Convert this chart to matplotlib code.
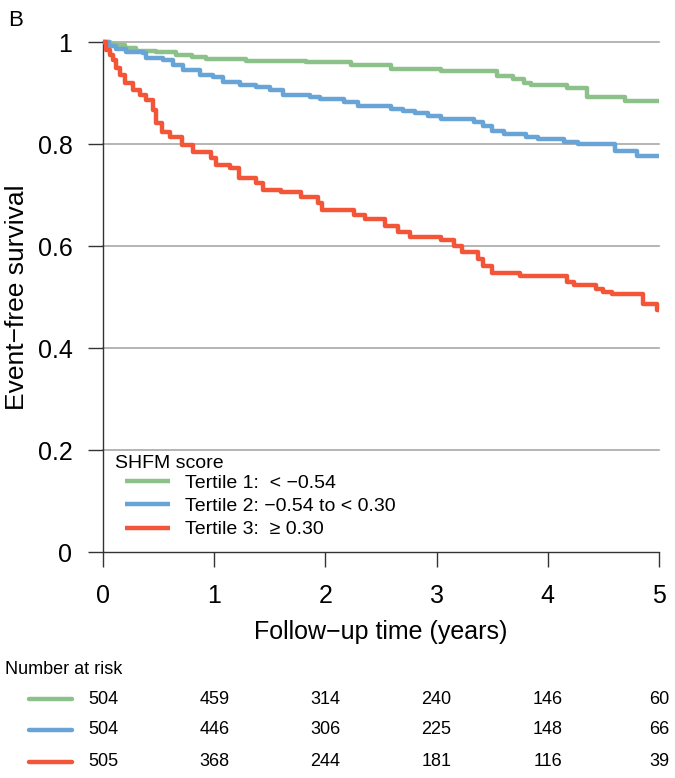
import matplotlib
matplotlib.use('Agg')
import matplotlib.pyplot as plt
from matplotlib.lines import Line2D
from matplotlib.transforms import blended_transform_factory

plt.rcParams['font.family'] = ['Liberation Sans', 'DejaVu Sans']

# Kaplan-Meier step values (time in years, survival)
t_tertile1 = [0, 0.06, 0.12, 0.20, 0.30, 0.48, 0.66, 0.80, 0.93, 1.29, 1.83, 2.23, 2.59,
              3.04, 3.54, 3.69, 3.79, 3.85, 4.17, 4.35, 4.69, 5.0]
s_tertile1 = [1.0, 0.997, 0.994, 0.988, 0.983, 0.981, 0.975, 0.970, 0.967, 0.963, 0.960,
              0.954, 0.947, 0.943, 0.933, 0.927, 0.920, 0.916, 0.909, 0.893, 0.884, 0.884]

t_tertile2 = [0, 0.05, 0.12, 0.21, 0.36, 0.39, 0.54, 0.63, 0.72, 0.87, 0.99, 1.08, 1.23,
              1.38, 1.50, 1.62, 1.86, 1.95, 2.17, 2.29, 2.59, 2.70, 2.81, 2.92, 3.04, 3.34,
              3.42, 3.50, 3.61, 3.80, 3.91, 4.15, 4.27, 4.60, 4.80, 5.0]
s_tertile2 = [1.0, 0.993, 0.987, 0.981, 0.979, 0.968, 0.965, 0.955, 0.945, 0.935, 0.931,
              0.922, 0.916, 0.912, 0.905, 0.897, 0.893, 0.888, 0.883, 0.875, 0.868, 0.864,
              0.860, 0.855, 0.850, 0.843, 0.835, 0.826, 0.819, 0.814, 0.809, 0.804, 0.800,
              0.787, 0.777, 0.777]

t_tertile3 = [0, 0.03, 0.06, 0.09, 0.12, 0.15, 0.20, 0.27, 0.33, 0.39, 0.45, 0.48, 0.53,
              0.60, 0.71, 0.81, 0.97, 1.02, 1.14, 1.22, 1.38, 1.44, 1.60, 1.78, 1.93, 1.97,
              2.26, 2.36, 2.54, 2.65, 2.76, 3.04, 3.16, 3.23, 3.37, 3.42, 3.50, 3.75, 4.17,
              4.24, 4.43, 4.50, 4.58, 4.86, 4.98, 5.0]
s_tertile3 = [1.0, 0.985, 0.975, 0.965, 0.950, 0.935, 0.919, 0.905, 0.896, 0.886, 0.867,
              0.841, 0.824, 0.813, 0.798, 0.785, 0.772, 0.759, 0.752, 0.733, 0.723, 0.710,
              0.705, 0.697, 0.684, 0.670, 0.660, 0.652, 0.640, 0.628, 0.618, 0.612, 0.600,
              0.588, 0.575, 0.560, 0.548, 0.541, 0.530, 0.524, 0.516, 0.510, 0.506, 0.486,
              0.475, 0.475]

labels = ['Tertile 1:  < \u22120.54',
          'Tertile 2: \u22120.54 to < 0.30',
          'Tertile 3:  \u2265 0.30']
colors = ['#8cc28a', '#68a4d6', '#f25538']

risk_times = [0, 1, 2, 3, 4, 5]
risk_tertile1 = [504, 459, 314, 240, 146, 60]
risk_tertile2 = [504, 446, 306, 225, 148, 66]
risk_tertile3 = [505, 368, 244, 181, 116, 39]

times = [t_tertile1, t_tertile2, t_tertile3]
survs = [s_tertile1, s_tertile2, s_tertile3]
risks = [risk_tertile1, risk_tertile2, risk_tertile3]

fig = plt.figure(figsize=(6.75, 7.78), dpi=100)
ax = fig.add_axes([103 / 675, 1 - 552 / 778, 556 / 675, 510 / 778])

for t, s, c, lab in zip(times, survs, colors, labels):
    ax.step(t, s, where='post', color=c, linewidth=3.2, label=lab, clip_on=False,
            solid_capstyle='butt', zorder=3)

ax.set_xlim(0, 5)
ax.set_ylim(0, 1)
ax.set_xticks(risk_times)
ax.set_yticks([0, 0.2, 0.4, 0.6, 0.8, 1])
ax.set_yticklabels(['0', '0.2', '0.4', '0.6', '0.8', '1'])
for yv in [0.2, 0.4, 0.6, 0.8, 1.0]:
    ax.axhline(yv, color='#a8a8a8', linewidth=1.2, zorder=1, clip_on=False)

for side in ['top', 'right']:
    ax.spines[side].set_visible(False)
ax.spines['left'].set_color('#333333')
ax.spines['bottom'].set_color('#333333')
ax.spines['left'].set_linewidth(1.0)
ax.spines['bottom'].set_linewidth(1.0)
ax.tick_params(axis='both', length=11, width=1.0, color='#333333', labelsize=18)
ax.tick_params(axis='y', pad=11)
ax.tick_params(axis='x', pad=12)

ax.set_xlabel('Follow\u2212up time (years)', fontsize=18, va='center')
ax.xaxis.set_label_coords(0.5, -0.157)
ax.set_ylabel('Event\u2212free survival', fontsize=19, va='center')
ax.yaxis.set_label_coords(-0.155, 0.5)

fig.text(8 / 675, 1 - 20 / 778, 'B', fontsize=16, va='center', ha='left')

# legend
ax.text(12 / 556, (552 - 463) / 510, 'SHFM score', transform=ax.transAxes,
        fontsize=14, va='center', ha='left')
leg = ax.legend(loc='upper left', bbox_to_anchor=(22 / 556, (552 - 474) / 510),
                frameon=False, fontsize=14, handlelength=2.3, handletextpad=0.8,
                labelspacing=0.3, borderaxespad=0, borderpad=0)

# number at risk table
tr = blended_transform_factory(ax.transData, fig.transFigure)
fig.text(5 / 675, 1 - 669 / 778, 'Number at risk', fontsize=13, va='center', ha='left')
row_y = [699, 730, 762]
for r, c, py in zip(risks, colors, row_y):
    yf = 1 - py / 778
    fig.add_artist(Line2D([29 / 675, 72 / 675], [yf, yf], color=c, linewidth=3.2,
                          solid_capstyle='round', transform=fig.transFigure))
    for tx, n in zip(risk_times, r):
        fig.text(tx, yf, str(n), transform=tr, fontsize=13, ha='center', va='center')

plt.savefig('out.png', dpi=100)
plt.close()
